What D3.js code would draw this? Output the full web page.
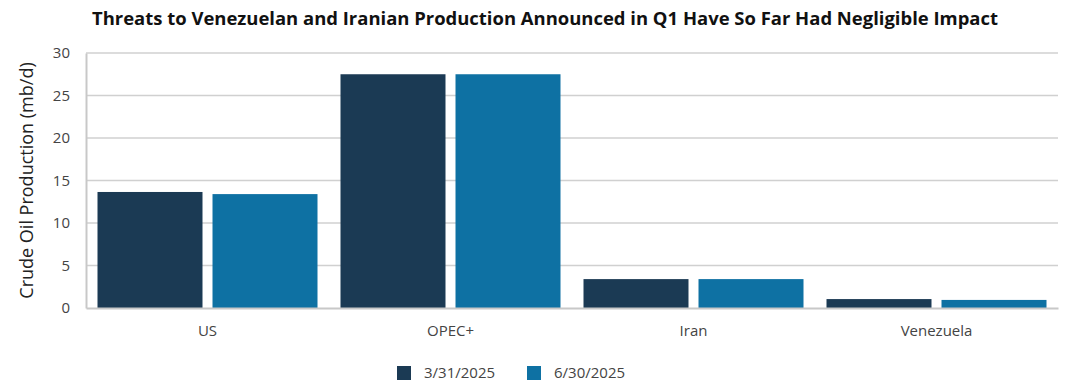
<!DOCTYPE html>
<html>
<head>
<meta charset="utf-8">
<script src="https://cdn.jsdelivr.net/npm/d3@7"></script>
<style>
  body { margin: 0; background: #fff; }
  text { font-family: "Open Sans", "Noto Sans", sans-serif; }
</style>
</head>
<body>
<div id="chart"></div>
<script>
// data
const categories = ["US", "OPEC+", "Iran", "Venezuela"];
const seriesNames = ["3/31/2025", "6/30/2025"];
const q1Values = [13.65, 27.5, 3.4, 1.05];
const q2Values = [13.4, 27.5, 3.4, 0.95];
const yTicks = [0, 5, 10, 15, 20, 25, 30];
const colors = ["#1b3a54", "#0e71a3"];

const W = 1076, H = 384;
const margin = { top: 53, right: 18, bottom: 76, left: 86 };
const width = W - margin.left - margin.right;
const height = H - margin.top - margin.bottom;

const svg = d3.select("#chart").append("svg")
    .attr("width", W)
    .attr("height", H);

svg.append("text")
    .attr("x", 545)
    .attr("y", 25)
    .attr("text-anchor", "middle")
    .attr("textLength", 906)
    .attr("lengthAdjust", "spacingAndGlyphs")
    .style("font-size", "18px")
    .style("font-weight", "bold")
    .style("fill", "#111")
    .text("Threats to Venezuelan and Iranian Production Announced in Q1 Have So Far Had Negligible Impact");

const g = svg.append("g").attr("transform", `translate(${margin.left},${margin.top})`);

const x0 = d3.scaleBand().domain(categories).range([0, width]).padding(0);
const x1 = d3.scaleBand().domain(seriesNames).range([0, x0.bandwidth()])
    .paddingInner(0.087).paddingOuter(0.1);
const y = d3.scaleLinear().domain([0, 30]).range([height, 0]);

// gridlines
g.append("g")
    .selectAll("line")
    .data(yTicks.filter(d => d > 0))
    .enter().append("line")
    .attr("x1", 0).attr("x2", width)
    .attr("y1", d => y(d)).attr("y2", d => y(d))
    .attr("stroke", "#d0d0d0")
    .attr("stroke-width", 1.5);

// y axis
const yAxis = g.append("g")
    .call(d3.axisLeft(y).tickValues(yTicks).tickSize(0).tickPadding(16));
yAxis.select(".domain").attr("stroke", "#c8c8c8").attr("stroke-width", 2);
yAxis.selectAll("text")
    .style("font-size", "15px")
    .style("fill", "#444")
    .style("font-family", "'Open Sans', sans-serif");

// bars
const table = categories.map((c, i) => ({ cat: c, vals: [q1Values[i], q2Values[i]] }));
g.append("g")
    .selectAll("g")
    .data(table)
    .enter().append("g")
    .attr("transform", d => `translate(${x0(d.cat)},0)`)
    .selectAll("rect")
    .data(d => d.vals.map((v, j) => ({ key: seriesNames[j], value: v, j: j })))
    .enter().append("rect")
    .attr("x", d => x1(d.key))
    .attr("y", d => y(d.value))
    .attr("width", x1.bandwidth())
    .attr("height", d => height - y(d.value))
    .attr("fill", d => colors[d.j]);

// x axis
const xAxis = g.append("g")
    .attr("transform", `translate(0,${height})`)
    .call(d3.axisBottom(x0).tickSize(0).tickPadding(17));
xAxis.select(".domain").attr("stroke", "#c8c8c8").attr("stroke-width", 2);
xAxis.selectAll("text")
    .style("font-size", "15px")
    .style("fill", "#444")
    .style("font-family", "'Open Sans', sans-serif");

// y label
svg.append("text")
    .attr("transform", `translate(33,${margin.top + height / 2}) rotate(-90)`)
    .attr("text-anchor", "middle")
    .style("font-size", "18px")
    .style("fill", "#222")
    .text("Crude Oil Production (mb/d)");

// legend
const legendX = [397, 527];
const legend = svg.append("g")
    .selectAll("g")
    .data(seriesNames)
    .enter().append("g")
    .attr("transform", (d, i) => `translate(${legendX[i]},366)`);
legend.append("rect")
    .attr("width", 14).attr("height", 14)
    .attr("fill", (d, i) => colors[i]);
legend.append("text")
    .attr("x", 27)
    .attr("y", 12)
    .style("font-size", "15px")
    .style("fill", "#444")
    .text(d => d);
</script>
</body>
</html>
